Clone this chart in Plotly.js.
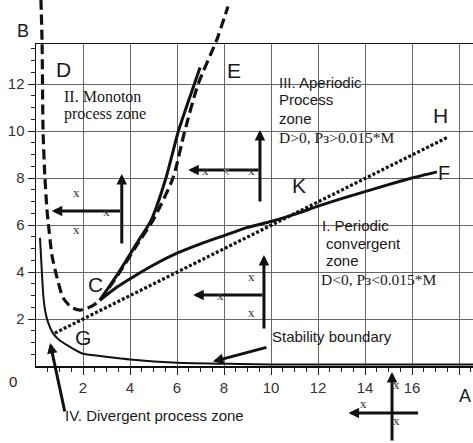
<!DOCTYPE html>
<html>
<head>
<meta charset="utf-8">
<script src="https://cdn.plot.ly/plotly-3.0.1.min.js"></script>
<style>html,body{margin:0;padding:0;background:#fff;}#chart{width:473px;height:443px;}</style>
</head>
<body>
<div id="chart"></div>
<script>
// ---- data ----
// dashed boundary D ... E
const dashX = [0.21, 0.26, 0.30, 0.38, 0.47, 0.51, 0.68, 0.90, 1.15, 1.50, 1.87, 2.38, 2.72, 3.50, 4.43, 4.98, 5.83, 6.33, 6.90, 7.70, 8.17];
const dashY = [15.6, 13.7, 10.0, 8.0, 6.6, 6.2, 4.7, 3.74, 2.9, 2.5, 2.38, 2.55, 2.8, 3.9, 5.36, 6.2, 8.0, 10.0, 12.0, 13.9, 15.3];
// solid curve C ... E
const solidCEX = [2.72, 3.50, 4.40, 4.90, 5.53, 6.06, 6.60, 6.98];
const solidCEY = [2.80, 3.95, 5.40, 6.20, 8.00, 10.0, 11.6, 12.7];
// solid curve C ... K ... F
const solidCFX = [2.72, 3.45, 4.13, 5.0, 6.0, 7.0, 8.0, 9.0, 10.0, 11.0, 12.0, 13.0, 14.0, 15.0, 16.0, 17.06];
const solidCFY = [2.80, 3.36, 3.79, 4.30, 4.80, 5.20, 5.55, 5.90, 6.15, 6.45, 6.80, 7.12, 7.42, 7.72, 8.00, 8.26];
// dotted line G ... H
const dotX = [0.80, 17.53];
const dotY = [1.40, 9.74];
// stability boundary
const stabX = [0.17, 0.25, 0.31, 0.40, 0.50, 0.72, 0.94, 1.32, 2.00, 2.72, 4.00, 6.00, 8.68, 10.0, 18.6];
const stabY = [5.45, 4.00, 3.00, 2.30, 1.90, 1.40, 1.15, 0.89, 0.52, 0.43, 0.28, 0.14, 0.085, 0.06, 0.06];

// axis ticks
const xTickVals = [2, 4, 6, 8, 10, 12, 14, 16, 18];
const xTickText = ['2', '4', '6', '8', '10', '12', '14', '16', ''];
const yTickVals = [2, 4, 6, 8, 10, 12];
const yTickText = ['2', '4', '6', '8', '10', '12'];
const boxTop = 13.7;

// arrows in data units: [tailX, tailY, headX, headY]
const dataArrows = [
  [3.65, 5.15, 3.65, 8.17],
  [3.65, 6.60, 0.67, 6.60],
  [9.53, 6.94, 9.53, 10.04],
  [9.53, 8.34, 6.48, 8.34],
  [9.70, 1.53, 9.70, 4.72],
  [9.70, 3.02, 6.69, 3.02],
  [9.87, 0.81, 7.53, 0.19]
];
// small "x" marks in data units
const markX = [1.73, 2.98, 1.73, 7.23, 9.18, 9.18, 7.83, 9.18];
const markY = [7.40, 6.57, 5.79, 8.34, 8.34, 3.83, 3.02, 2.27];
const faintMarkX = [8.11];
const faintMarkY = [8.34];

// ---- rendering ----
const W = 473, H = 443;
const mL = 36, mB = 77;
const pxPerUnit = 23.5;
const xMax = (W - mL) / pxPerUnit;
const yMax = (H - mB) / pxPerUnit;
const plotW = W - mL, plotH = H - mB;
const px2paperX = p => (p - mL) / plotW;
const py2paperY = p => (plotH - p) / plotH;

const black = '#111';
const gridColor = '#666';
const sans = 'Liberation Sans, Arial, sans-serif';
const serif = 'Liberation Serif, Times New Roman, serif';

// curves live on a second (invisible) pair of axes that covers the whole plot height,
// so the dashed curve can run above the framed box
const curveAxes = {xaxis: 'x2', yaxis: 'y2'};
const traces = [
  Object.assign({x: dashX, y: dashY, mode: 'lines', line: {color: black, width: 3.2, dash: '10px,5px', shape: 'spline', smoothing: 0.6}}, curveAxes),
  Object.assign({x: solidCEX, y: solidCEY, mode: 'lines', line: {color: black, width: 3, shape: 'spline', smoothing: 0.6}}, curveAxes),
  Object.assign({x: solidCFX, y: solidCFY, mode: 'lines', line: {color: black, width: 3, shape: 'spline', smoothing: 0.6}}, curveAxes),
  Object.assign({x: dotX, y: dotY, mode: 'lines', line: {color: black, width: 3.2, dash: '3px,2px'}}, curveAxes),
  Object.assign({x: stabX, y: stabY, mode: 'lines', line: {color: black, width: 2, shape: 'spline', smoothing: 0.5}}, curveAxes)
];

const minorX = [], minorY = [];
for (let v = 0.5; v < xMax; v += 0.5) { if (v % 2 !== 0) minorX.push(v); }
for (let v = 0.5; v < boxTop; v += 0.5) { if (v % 2 !== 0) minorY.push(v); }

const ann = [];
dataArrows.forEach(a => ann.push({xref: 'x', yref: 'y', axref: 'x', ayref: 'y', ax: a[0], ay: a[1], x: a[2], y: a[3], text: '', showarrow: true, arrowhead: 2, arrowsize: 0.7, arrowwidth: 3, arrowcolor: black, standoff: 0}));
// arrow to "IV. Divergent process zone" (tail below the axis)
ann.push({xref: 'x', yref: 'y', x: 0.60, y: 0.98, ax: 15, ay: 70, text: '', showarrow: true, arrowhead: 2, arrowsize: 0.7, arrowwidth: 3, arrowcolor: black, standoff: 0});
// bottom-right cross (below the axis)
ann.push({xref: 'x', yref: 'paper', x: 15.15, y: py2paperY(372), ax: 0, ay: 70, text: '', showarrow: true, arrowhead: 2, arrowsize: 0.7, arrowwidth: 3, arrowcolor: black, standoff: 0});
ann.push({xref: 'x', yref: 'paper', x: 13.3, y: py2paperY(413), ax: 71, ay: 0, text: '', showarrow: true, arrowhead: 2, arrowsize: 0.7, arrowwidth: 3, arrowcolor: black, standoff: 0});

markX.forEach((x, i) => ann.push({xref: 'x', yref: 'y', x: x, y: markY[i], text: 'x', showarrow: false, font: {family: serif, size: 13, color: '#333'}}));
faintMarkX.forEach((x, i) => ann.push({xref: 'x', yref: 'y', x: x, y: faintMarkY[i], text: 'x', showarrow: false, font: {family: serif, size: 13, color: '#999'}}));
[[402, 394], [402, 430], [369, 413]].forEach(p => ann.push({xref: 'paper', yref: 'paper', x: px2paperX(p[0]), y: py2paperY(p[1]), text: 'x', showarrow: false, font: {family: serif, size: 13, color: '#333'}}));

function label(text, x, y, size, family, anchor, refs) {
  const r = refs || ['x', 'y'];
  ann.push({xref: r[0], yref: r[1], x: x, y: y, text: text, showarrow: false, xanchor: anchor || 'center', yanchor: 'middle',
    font: {family: family || sans, size: size, color: '#1a1a1a'}});
}
label('D', 1.17, 12.62, 21);
label('E', 8.43, 12.57, 21);
label('H', 17.23, 10.64, 21);
label('K', 11.19, 7.68, 21);
label('F', 17.36, 8.23, 20);
label('C', 2.55, 3.47, 21);
label('G', 2.02, 1.23, 21);
label('B', px2paperX(23), py2paperY(31), 18, sans, 'center', ['paper', 'paper']);
label('0', px2paperX(12.5), py2paperY(381), 15, sans, 'center', ['paper', 'paper']);
label('A', px2paperX(473), py2paperY(396), 18, sans, 'right', ['paper', 'paper']);

label('II. Monoton', 1.10, 11.46, 16, serif, 'left');
label('process zone', 1.10, 10.71, 16, serif, 'left');
label('III. Aperiodic', 10.26, 12.07, 15, sans, 'left');
label('Process', 10.26, 11.32, 15, sans, 'left');
label('zone', 10.26, 10.54, 15, sans, 'left');
label('D&gt;0, Pз&gt;0.015*M', 10.26, 9.72, 15.5, serif, 'left');
label('I. Periodic', 12.08, 6.0, 15, sans, 'left');
label('convergent', 12.26, 5.22, 15, sans, 'left');
label('zone', 12.26, 4.47, 15, sans, 'left');
label('D&lt;0, Pз&lt;0.015*M', 12.04, 3.69, 15.5, serif, 'left');
label('Stability boundary', 9.95, 1.25, 15, sans, 'left');
label('IV. Divergent process zone', px2paperX(63), py2paperY(415), 15, sans, 'left', ['paper', 'paper']);

const layout = {
  width: W, height: H,
  margin: {l: mL, r: 0, t: 0, b: mB, pad: 0},
  paper_bgcolor: '#fff', plot_bgcolor: 'rgba(0,0,0,0)',
  showlegend: false,
  xaxis: {
    range: [0, xMax], fixedrange: true, anchor: 'y',
    tickmode: 'array', tickvals: xTickVals, ticktext: xTickText,
    ticks: 'outside', ticklen: 7, tickwidth: 1, tickcolor: '#222',
    showgrid: true, gridcolor: gridColor, gridwidth: 1, zeroline: false,
    showline: true, linecolor: black, linewidth: 1.5, mirror: true,
    tickfont: {family: sans, size: 15, color: '#333'},
    minor: {tickmode: 'array', tickvals: minorX, ticks: 'outside', ticklen: 4, tickwidth: 1, tickcolor: '#222', showgrid: false}
  },
  yaxis: {
    range: [0, boxTop], domain: [0, boxTop / yMax], fixedrange: true, anchor: 'x',
    tickmode: 'array', tickvals: yTickVals, ticktext: yTickText,
    ticks: 'outside', ticklen: 7, tickwidth: 1, tickcolor: '#222',
    showgrid: true, gridcolor: gridColor, gridwidth: 1,
    zeroline: false, showline: true, linecolor: black, linewidth: 1.5,
    tickfont: {family: sans, size: 15, color: '#333'},
    minor: {tickmode: 'array', tickvals: minorY, ticks: 'outside', ticklen: 4, tickwidth: 1, tickcolor: '#222', showgrid: false}
  },
  xaxis2: {range: [0, xMax], anchor: 'y2', domain: [0, 1], visible: false, fixedrange: true},
  yaxis2: {range: [0, yMax], anchor: 'x2', domain: [0, 1], visible: false, fixedrange: true},
  annotations: ann
};

Plotly.newPlot('chart', traces, layout, {staticPlot: true, displayModeBar: false});
</script>
</body>
</html>
